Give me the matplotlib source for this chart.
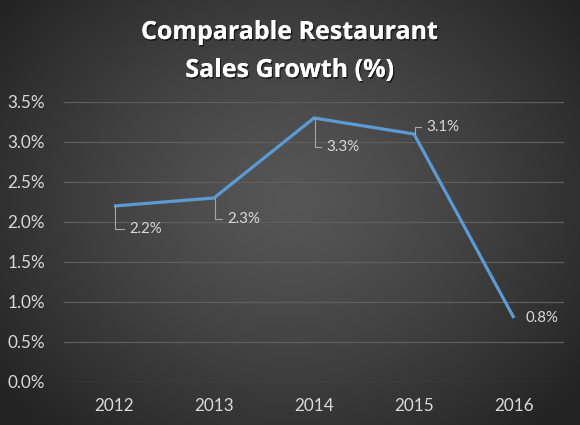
import numpy as np
import matplotlib
matplotlib.use("Agg")
import matplotlib.pyplot as plt
from matplotlib import transforms
import matplotlib.patheffects as pe

years = ["2012", "2013", "2014", "2015", "2016"]
growth = [2.2, 2.3, 3.3, 3.1, 0.8]
labels = ["2.2%", "2.3%", "3.3%", "3.1%", "0.8%"]
yticks = [0.0, 0.5, 1.0, 1.5, 2.0, 2.5, 3.0, 3.5]
title_lines = ["Comparable Restaurant", "Sales Growth (%)"]

# label offsets in pixels (dx, dy) from point; leader: True/False
label_offsets = [(15, -23), (13, -21), (12, -29), (12, 7), (11, 0)]
has_leader = [True, True, True, True, False]

plt.rcParams['font.family'] = ['Lato', 'DejaVu Sans']

W, H = 580, 425
fig = plt.figure(figsize=(W / 100, H / 100), dpi=100)

# radial gradient background
bg = fig.add_axes([0, 0, 1, 1], zorder=-10)
yy, xx = np.mgrid[0:H, 0:W]
cx, cy = W * 0.5, H * 0.47
r = np.sqrt(((xx - cx) / (W * 0.62)) ** 2 + ((yy - cy) / (H * 0.72)) ** 2)
r = np.clip(r, 0, 1)
c_center, c_edge = 0x56 / 255, 0x24 / 255
img = c_center + (c_edge - c_center) * r ** 1.3
bg.imshow(np.dstack([img, img, img]), aspect='auto', extent=[0, 1, 0, 1])
bg.set_axis_off()

ax = fig.add_axes([64 / W, 1 - 382 / H, 500 / W, 280 / H])
ax.set_facecolor('none')
x = np.arange(len(years))
ax.plot(x, growth, color='#5B9BD5', lw=2.3, solid_capstyle='butt', solid_joinstyle='miter', zorder=3)

ax.set_xlim(-0.5, len(years) - 0.5)
ax.set_ylim(0, 3.5)
ax.set_yticks(yticks)
ax.set_yticklabels([f"{v:.1f}%" for v in yticks])
ax.set_xticks(x)
ax.set_xticklabels(years)
ax.grid(axis='y', color='#5e5e5e', lw=0.9)
ax.set_axisbelow(True)
for s in ax.spines.values():
    s.set_visible(False)
ax.tick_params(axis='both', length=0, colors='#d9d9d9', labelsize=12.3)
ax.tick_params(axis='y', pad=13.5)
ax.tick_params(axis='x', pad=11.5)

for i, (xv, yv) in enumerate(zip(x, growth)):
    dx, dy = label_offsets[i]
    tr = transforms.offset_copy(ax.transData, fig, x=dx, y=dy, units='dots')
    ax.text(xv, yv, labels[i], transform=tr, ha='left', va='center',
            color='#d9d9d9', fontsize=10.8, zorder=4)
    if has_leader[i]:
        t0 = transforms.offset_copy(ax.transData, fig, x=1, y=0, units='dots')
        t1 = transforms.offset_copy(ax.transData, fig, x=1, y=dy, units='dots')
        t2 = transforms.offset_copy(ax.transData, fig, x=dx - 5, y=dy, units='dots')
        p0 = t0.transform((xv, yv))
        p1 = t1.transform((xv, yv))
        p2 = t2.transform((xv, yv))
        pts = fig.transFigure.inverted().transform([p0, p1, p2])
        fig.add_artist(plt.Line2D(pts[:, 0], pts[:, 1], color='#a6a6a6', lw=0.8,
                                  transform=fig.transFigure, zorder=2))

shadow = [pe.withSimplePatchShadow(offset=(1, -1.2), shadow_rgbFace='black', alpha=0.6),
          pe.Normal()]
fig.text(0.5, 1 - 39 / H, title_lines[0], ha='center', va='baseline', color='white',
         fontsize=18, fontweight='bold', family=['Open Sans', 'DejaVu Sans'], path_effects=shadow)
fig.text(0.5, 1 - 77 / H, title_lines[1], ha='center', va='baseline', color='white',
         fontsize=18, fontweight='bold', family=['Open Sans', 'DejaVu Sans'], path_effects=shadow)

fig.savefig('out.png', dpi=100)
